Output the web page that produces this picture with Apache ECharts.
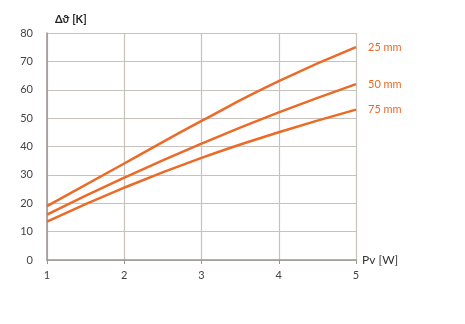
<!DOCTYPE html>
<html><head><meta charset="utf-8">
<script src="https://cdn.jsdelivr.net/npm/echarts@6/dist/echarts.min.js"></script>
<style>html,body{margin:0;padding:0;background:#fff}#c{width:465px;height:324px}</style>
</head><body><div id="c"></div>
<script>
const xValues = [1, 2, 3, 4, 5];
const s25 = [19, 34, 49, 63, 75];
const s50 = [16, 29, 41, 52, 62];
const s75 = [13.5, 25.5, 36, 45, 53];
const seriesNames = ['25 mm', '50 mm', '75 mm'];
const yTicks = [0, 10, 20, 30, 40, 50, 60, 70, 80];

const orange = '#ea6a26';
const font = 'Lato';
function mk(name, vals) {
  return {
    name, type: 'line', smooth: true, symbol: 'none',
    data: xValues.map((x, i) => [x, vals[i]]),
    lineStyle: { color: orange, width: 2.5 },
    endLabel: { show: true, formatter: name, color: orange, fontFamily: font, fontSize: 11, distance: 12 }
  };
}
const chart = echarts.init(document.getElementById('c'));
chart.setOption({
  animation: false,
  grid: { left: 47, right: 109, top: 33, bottom: 64 },
  xAxis: {
    type: 'value', min: 1, max: 5, interval: 1,
    name: 'Pv [W]', nameLocation: 'end', nameGap: 6,
    nameTextStyle: { color: '#333', fontFamily: font, fontSize: 12, verticalAlign: 'middle', padding: [0,0,6,0] },
    axisLine: { lineStyle: { color: '#9a9590', width: 1.5 } },
    axisTick: { show: true, length: 4, lineStyle: { color: '#9a9590' } },
    axisLabel: { color: '#444', fontFamily: font, fontSize: 11, margin: 10 },
    splitLine: { show: true, lineStyle: { color: '#c8c2bc', width: 1.2 } }
  },
  yAxis: {
    type: 'value', min: 0, max: 80, interval: 10,
    name: 'Δϑ [K]', nameLocation: 'end', nameGap: 8,
    nameTextStyle: { color: '#222', fontFamily: font, fontSize: 11, fontWeight: 'bold', align: 'left', padding: [0,0,0,8] },
    axisLine: { show: true, lineStyle: { color: '#9a9590', width: 1.5 } },
    axisTick: { show: false },
    axisLabel: { color: '#444', fontFamily: font, fontSize: 11, margin: 14, formatter: v => yTicks.includes(v) ? String(v) : '' },
    splitLine: { show: true, lineStyle: { color: '#c8c2bc', width: 1.2 } }
  },
  series: [mk(seriesNames[0], s25), mk(seriesNames[1], s50), mk(seriesNames[2], s75)]
});
</script></body></html>
